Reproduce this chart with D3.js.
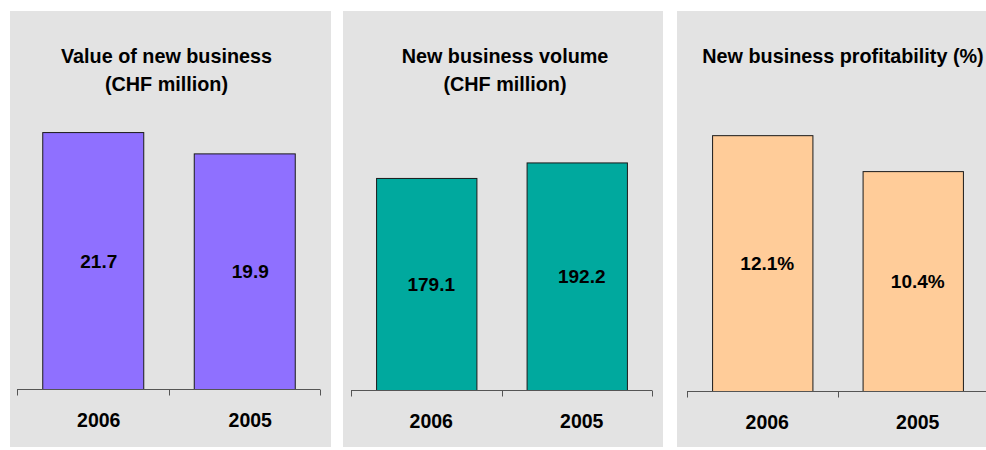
<!DOCTYPE html>
<html>
<head>
<meta charset="utf-8">
<script src="https://cdn.jsdelivr.net/npm/d3@7"></script>
<style>
  html, body { margin: 0; padding: 0; background: #ffffff; }
  svg { display: block; }
  text { font-family: "Liberation Sans", Arial, sans-serif; font-weight: bold; fill: #000; }
</style>
</head>
<body>
<svg id="chart" width="986" height="450"></svg>
<script>
// Years shown on every panel
const years = ["2006", "2005"];

// Value of new business (CHF million)
const valueOfNewBusiness = [21.7, 19.9];
// New business volume (CHF million)
const newBusinessVolume = [179.1, 192.2];
// New business profitability (%)
const newBusinessProfitability = [12.1, 10.4];

const titles = [
  ["Value of new business", "(CHF million)"],
  ["New business volume", "(CHF million)"],
  ["New business profitability (%)"]
];
const valueLabels = [
  ["21.7", "19.9"],
  ["179.1", "192.2"],
  ["12.1%", "10.4%"]
];
const axisMax = [25, 250, 14];

// Panel layout: frame, axis extent, baseline
const layout = [
  { x: 10,  w: 321, ax0: 17,  ax1: 320, base: 389, titleX: 166.5, lblDx: 6 },
  { x: 343, w: 320, ax0: 351, ax1: 652, base: 390, titleX: 505,   lblDx: 5 },
  { x: 677, w: 321, ax0: 687, ax1: 988, base: 391, titleX: 843,   lblDx: 5 }
];
const series = [valueOfNewBusiness, newBusinessVolume, newBusinessProfitability];
const colors = ["#8f70ff", "#00a99e", "#ffcc99"];
const plotHeight = 296;

const svg = d3.select("#chart");

series.forEach((vals, i) => {
  const L = layout[i];
  const g = svg.append("g");

  g.append("rect")
    .attr("x", L.x).attr("y", 11)
    .attr("width", L.w).attr("height", 436)
    .attr("fill", "#e3e3e3");

  // Title lines
  titles[i].forEach((line, k) => {
    g.append("text")
      .attr("x", L.titleX).attr("y", 63 + k * 28)
      .attr("text-anchor", "middle")
      .style("font-size", "19.8px")
      .text(line);
  });

  const x = d3.scaleBand()
    .domain(years)
    .range([L.ax0, L.ax1])
    .paddingInner(1 / 3)
    .paddingOuter(1 / 6);

  const y = d3.scaleLinear()
    .domain([0, axisMax[i]])
    .range([L.base, L.base - plotHeight]);

  const data = years.map((yr, j) => ({ yr, v: vals[j], label: valueLabels[i][j] }));

  g.selectAll("rect.bar")
    .data(data)
    .join("rect")
    .attr("class", "bar")
    .attr("x", d => x(d.yr) + 0.5)
    .attr("y", d => y(d.v) + 0.5)
    .attr("width", x.bandwidth())
    .attr("height", d => y(0) - y(d.v))
    .attr("fill", colors[i])
    .attr("stroke", "#1a1a1a")
    .attr("stroke-width", 1);

  g.selectAll("text.val")
    .data(data)
    .join("text")
    .attr("class", "val")
    .attr("x", d => x(d.yr) + x.bandwidth() / 2 + L.lblDx)
    .attr("y", d => (y(d.v) + y(0)) / 2 + 7)
    .attr("text-anchor", "middle")
    .style("font-size", "19px")
    .text(d => d.label);

  // Category axis with ticks at band boundaries
  const axisG = g.append("g").attr("transform", `translate(0,${L.base + 0.5})`);
  axisG.append("line")
    .attr("x1", L.ax0).attr("x2", L.ax1)
    .attr("stroke", "#555").attr("stroke-width", 1);
  const bounds = d3.range(years.length + 1).map(k => L.ax0 + k * (L.ax1 - L.ax0) / years.length);
  axisG.selectAll("line.tick")
    .data(bounds)
    .join("line")
    .attr("class", "tick")
    .attr("x1", d => Math.round(d) + 0.5).attr("x2", d => Math.round(d) + 0.5)
    .attr("y1", 0).attr("y2", 6)
    .attr("stroke", "#555").attr("stroke-width", 1);

  axisG.selectAll("text.cat")
    .data(years)
    .join("text")
    .attr("class", "cat")
    .attr("x", d => x(d) + x.bandwidth() / 2 + L.lblDx)
    .attr("y", 37)
    .attr("text-anchor", "middle")
    .style("font-size", "19.5px")
    .text(d => d);
});
</script>
</body>
</html>
